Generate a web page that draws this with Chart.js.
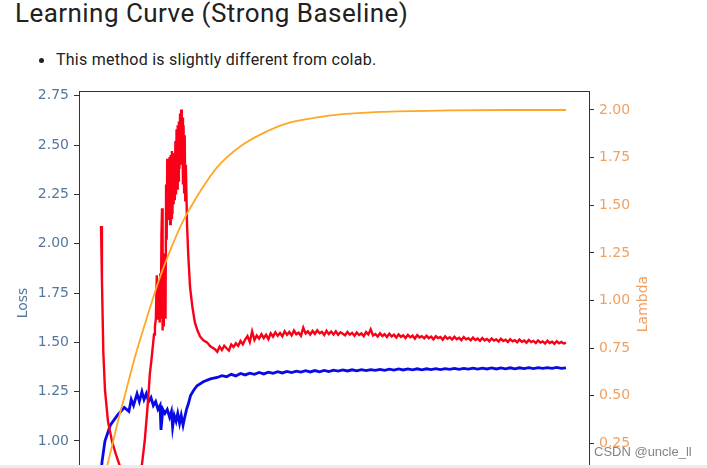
<!DOCTYPE html>
<html>
<head>
<meta charset="utf-8">
<script src="https://cdn.jsdelivr.net/npm/chart.js@4.4.0/dist/chart.umd.min.js"></script>
<style>
  html, body { margin:0; padding:0; background:#fff; width:707px; height:468px; overflow:hidden; font-family:Roboto, sans-serif; }
  #title { position:absolute; left:15px; top:0px; font-size:26px; line-height:26px; letter-spacing:0.45px; color:#212121; white-space:nowrap; }
  #note { position:absolute; left:56px; top:52px; font-size:16px; line-height:16px; letter-spacing:0.25px; color:#212121; white-space:nowrap; }
  #dot { position:absolute; left:39px; top:58px; width:5px; height:5px; border-radius:50%; background:#212121; }
  #curve { position:absolute; left:0; top:0; }
  #mark { position:absolute; left:594px; top:444px; font:13px 'Liberation Sans', Arial, sans-serif; color:rgba(110,110,110,0.85); white-space:nowrap; }
  #strip { position:absolute; left:0; top:465px; width:707px; height:3px; background:#ececec; }
</style>
</head>
<body>
<div id="title">Learning Curve (Strong Baseline)</div>
<div id="dot"></div>
<div id="note">This method is slightly different from colab.</div>
<canvas id="curve" width="707" height="480"></canvas>
<div id="mark">CSDN @uncle_ll</div>
<div id="strip"></div>

<script>
// tick labels
const lossTicks = [1.00, 1.25, 1.50, 1.75, 2.00, 2.25, 2.50, 2.75];
const lambdaTicks = [0.25, 0.50, 0.75, 1.00, 1.25, 1.50, 1.75, 2.00];

// lambda schedule (orange, right axis)
const lambdaSteps  = [0, 2, 5, 8, 10, 15, 20, 25, 30, 35, 40, 50, 60, 70, 80, 90, 100, 120, 150, 175, 200];
const lambdaValues = [0, 0.10, 0.25, 0.40, 0.49, 0.72, 0.92, 1.11, 1.27, 1.41, 1.52, 1.70, 1.81, 1.88, 1.93, 1.955, 1.973, 1.99, 1.998, 2.0, 2.0];

// red loss, early part (irregular steps, dense around the spike)
const redSteps = [0, 0.4, 1, 1.7, 3, 4.7, 6.5, 8.2, 10, 12,
  14, 16, 17.6, 18.8, 19.8, 20.5, 21, 21.6, 22.2, 22.8,
  23.2, 23.6,
  24, 24.25, 24.5, 24.75, 25, 25.25, 25.5, 25.75, 26, 26.25,
  26.5, 26.75, 27, 27.25, 27.5, 27.75, 28, 28.25, 28.5, 28.75,
  29, 29.25, 29.5, 29.75, 30, 30.25, 30.5, 30.75, 31, 31.25,
  31.5, 31.75, 32, 32.25, 32.5, 32.75, 33, 33.25, 33.5, 33.75,
  34, 34.25, 34.5, 34.75, 35, 35.25, 35.5, 35.75, 36, 36.25,
  36.5,
  37, 37.5, 38.3, 39.3, 40.4, 41.5, 42.6, 44, 45.6, 47, 49];
const redLoss = [2.09, 1.82, 1.45, 1.26, 1.10, 1.00, 0.93, 0.87, 0.84, 0.82,
  0.81, 0.83, 0.88, 1.00, 1.14, 1.25, 1.34, 1.40, 1.47, 1.54,
  1.58, 1.62,
  1.84, 1.62, 1.80, 1.64, 1.78, 1.60, 1.85, 1.62, 2.05, 2.18,
  1.56, 1.88, 1.58, 1.90, 1.95, 1.62, 2.30, 2.02, 2.43, 2.12,
  2.40, 2.16, 2.44, 2.10, 2.45, 2.13, 2.47, 2.15, 2.40, 2.20,
  2.46, 2.22, 2.52, 2.25, 2.58, 2.28, 2.60, 2.32, 2.62, 2.38,
  2.66, 2.42, 2.68, 2.40, 2.64, 2.30, 2.60, 2.26, 2.55, 2.22,
  2.40,
  2.10, 1.95, 1.78, 1.68, 1.60, 1.56, 1.53, 1.51, 1.50, 1.48, 1.465];
// red loss from step 50 to 200, one per step
const redTailStart = 50;
const redTailLoss = [
  1.452, 1.478, 1.461, 1.483, 1.470, 1.458, 1.489, 1.476, 1.495, 1.482,
  1.507, 1.490, 1.514, 1.532, 1.501, 1.556, 1.512, 1.535, 1.519, 1.541,
  1.522, 1.538, 1.516, 1.546, 1.529, 1.551, 1.533, 1.547, 1.530, 1.556,
  1.538, 1.552, 1.535, 1.560, 1.541, 1.549, 1.533, 1.574, 1.545, 1.556,
  1.539, 1.558, 1.543, 1.561, 1.546, 1.553, 1.537, 1.559, 1.542, 1.555,
  1.540, 1.556, 1.538, 1.551, 1.544, 1.536, 1.553, 1.539, 1.548, 1.533,
  1.550, 1.537, 1.545, 1.531, 1.552, 1.540, 1.566, 1.535, 1.542, 1.529,
  1.546, 1.532, 1.541, 1.527, 1.544, 1.530, 1.539, 1.524, 1.540, 1.528,
  1.536, 1.522, 1.538, 1.526, 1.534, 1.519, 1.537, 1.525, 1.531, 1.520,
  1.533, 1.521, 1.529, 1.515, 1.531, 1.522, 1.527, 1.513, 1.530, 1.518,
  1.526, 1.514, 1.528, 1.516, 1.523, 1.511, 1.527, 1.515, 1.521, 1.510,
  1.524, 1.512, 1.519, 1.508, 1.522, 1.510, 1.517, 1.506, 1.520, 1.509,
  1.515, 1.504, 1.518, 1.507, 1.513, 1.502, 1.516, 1.505, 1.511, 1.500,
  1.514, 1.503, 1.509, 1.498, 1.512, 1.501, 1.507, 1.496, 1.510, 1.499,
  1.505, 1.494, 1.508, 1.497, 1.503, 1.493, 1.506, 1.495, 1.502, 1.494,
  1.498];

// blue loss, early part
const blueSteps = [0, 0.5, 1.7, 4, 7, 10, 12, 13, 14, 15.5,
  16.5, 17.6, 18.5, 19.5, 20.5, 21.5, 22.5, 23.5, 24.5, 25.4,
  25.8, 26.6, 27.5, 28.5, 29.5, 30.3, 30.8, 31.5, 32.3, 33,
  33.8, 34.5, 35.3, 36, 36.8, 37.6, 38.5, 40, 41.3, 44,
  47];
const blueLoss = [0.84, 0.90, 1.00, 1.08, 1.13, 1.17, 1.15, 1.21, 1.18, 1.24,
  1.20, 1.25, 1.21, 1.24, 1.20, 1.22, 1.18, 1.20, 1.16, 1.18,
  1.056, 1.16, 1.14, 1.16, 1.12, 1.15, 1.07, 1.13, 1.10, 1.14,
  1.09, 1.13, 1.08, 1.12, 1.16, 1.19, 1.23, 1.26, 1.28, 1.30,
  1.315];
// blue loss from step 50 to 200, every 2 steps
const blueTailStart = 50;
const blueTailStride = 2;
const blueTailLoss = [
  1.322, 1.331, 1.326, 1.338, 1.330, 1.342, 1.335, 1.344, 1.338, 1.347,
  1.340, 1.349, 1.343, 1.351, 1.345, 1.353, 1.347, 1.354, 1.349, 1.356,
  1.350, 1.357, 1.351, 1.358, 1.352, 1.359, 1.354, 1.360, 1.355, 1.361,
  1.356, 1.362, 1.357, 1.362, 1.358, 1.363, 1.358, 1.364, 1.359, 1.365,
  1.360, 1.365, 1.361, 1.366, 1.361, 1.366, 1.362, 1.367, 1.362, 1.367,
  1.363, 1.368, 1.363, 1.368, 1.364, 1.369, 1.364, 1.369, 1.365, 1.370,
  1.365, 1.370, 1.366, 1.371, 1.366, 1.371, 1.367, 1.372, 1.367, 1.372,
  1.368, 1.372, 1.368, 1.373, 1.368, 1.371];

const lastStep = 200;

// build {x,y} points
const pairs = (xs, ys) => ys.map((v, i) => ({ x: xs[i], y: v }));
const lambdaData = pairs(lambdaSteps, lambdaValues);
const redData = pairs(redSteps, redLoss).concat(redTailLoss.map((v, i) => ({ x: redTailStart + i, y: v })));
const blueData = pairs(blueSteps, blueLoss).concat(blueTailLoss.map((v, i) => ({ x: blueTailStart + i * blueTailStride, y: v })));

const leftColor = '#56779c';
const rightColor = '#f2a060';
const tickFont = { family: 'DejaVu Sans', size: 14 };

// top spine + axis titles
const frame = {
  id: 'frame',
  afterDraw(chart) {
    const { ctx, chartArea: a } = chart;
    ctx.save();
    ctx.strokeStyle = '#333';
    ctx.lineWidth = 1;
    ctx.beginPath();
    ctx.moveTo(a.left, a.top + 0.5);
    ctx.lineTo(a.right, a.top + 0.5);
    ctx.stroke();

    ctx.font = '14px "DejaVu Sans"';
    ctx.textAlign = 'center';
    ctx.textBaseline = 'middle';
    ctx.fillStyle = leftColor;
    ctx.translate(23, 303);
    ctx.rotate(-Math.PI / 2);
    ctx.fillText('Loss', 0, 0);
    ctx.restore();

    ctx.save();
    ctx.font = '14px "DejaVu Sans"';
    ctx.textAlign = 'center';
    ctx.textBaseline = 'middle';
    ctx.fillStyle = rightColor;
    ctx.translate(643, 304);
    ctx.rotate(-Math.PI / 2);
    ctx.fillText('Lambda', 0, 0);
    ctx.restore();
  }
};

const ctx = document.getElementById('curve').getContext('2d');
new Chart(ctx, {
  type: 'line',
  data: {
    datasets: [
      { label: 'lambda', data: lambdaData, yAxisID: 'y2', borderColor: '#ffa726', borderWidth: 1.8,
        pointRadius: 0, cubicInterpolationMode: 'monotone', order: 0 },
      { label: 'red', data: redData, yAxisID: 'y', borderColor: '#fa0018', borderWidth: 2.4,
        pointRadius: 0, tension: 0, order: 1 },
      { label: 'blue', data: blueData, yAxisID: 'y', borderColor: '#0a0ae6', borderWidth: 2.8,
        pointRadius: 0, tension: 0, order: 2 }
    ]
  },
  options: {
    responsive: false,
    animation: false,
    layout: { padding: { top: 91, bottom: 15, left: 0, right: 0 } },
    plugins: { legend: { display: false }, tooltip: { enabled: false } },
    scales: {
      x: {
        type: 'linear',
        display: false,
        min: -22 / 465 * lastStep,
        max: lastStep + 23 / 465 * lastStep
      },
      y: {
        position: 'left',
        min: 0.8783,
        max: 2.774,
        afterBuildTicks: s => { s.ticks = lossTicks.map(v => ({ value: v })); },
        afterFit: s => { s.width = 79; },
        ticks: { color: leftColor, font: tickFont, padding: 5, autoSkip: false, callback: v => v.toFixed(2) },
        grid: { drawOnChartArea: false, drawTicks: true, tickLength: 5, color: '#333' },
        border: { color: '#333', width: 1 }
      },
      y2: {
        position: 'right',
        min: 0.1365,
        max: 2.0997,
        afterBuildTicks: s => { s.ticks = lambdaTicks.map(v => ({ value: v })); },
        afterFit: s => { s.width = 118; },
        ticks: { color: rightColor, font: tickFont, padding: 5, autoSkip: false, callback: v => v.toFixed(2) },
        grid: { drawOnChartArea: false, drawTicks: true, tickLength: 5, color: '#333' },
        border: { color: '#333', width: 1 }
      }
    }
  },
  plugins: [frame]
});
</script>
</body>
</html>
